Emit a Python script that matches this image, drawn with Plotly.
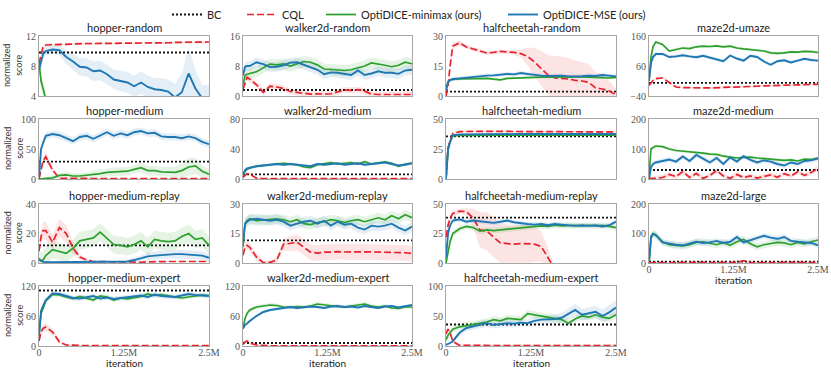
import plotly.graph_objects as go

W, H = 831, 369

# iteration (millions)
X = [0, 0.03, 0.06, 0.1,
     0.2, 0.3, 0.4, 0.5, 0.6, 0.7, 0.8, 0.9, 1.0, 1.1, 1.2, 1.3,
     1.4, 1.5, 1.6, 1.7, 1.8, 1.9, 2.0, 2.1, 2.2, 2.3, 2.4, 2.5]
X_TICKS = [0, 1.25, 2.5]
X_TICK_TEXT = ["0", "1.25M", "2.5M"]

# ---- hopper-random
hr_bc = 9.8
hr_cql = [8.3, 9.5, 10.6, 10.8,
          10.85, 10.9, 10.9, 10.95, 10.95, 11.0, 11.0, 11.0, 11.0, 11.05, 11.05, 11.05,
          11.1, 11.1, 11.1, 11.1, 11.1, 11.1, 11.15, 11.15, 11.15, 11.15, 11.15, 11.2]
hr_min = [8.5, 6.0, 5.0, 3.5,
          2.0, 1.8, 1.6, 1.5, 1.5, 1.4, 1.4, 1.3, 1.3, 1.3, 1.2, 1.2,
          1.2, 1.2, 1.1, 1.1, 1.1, 1.1, 1.0, 1.0, 1.0, 1.0, 1.0, 1.0]
hr_mse = [7.5, 8.5, 9.6, 10.0,
          10.2, 10.1, 9.2, 8.6, 7.9, 7.8, 7.3, 7.4, 6.9, 6.2, 6.0, 5.8,
          5.3, 5.8, 5.2, 4.9, 4.8, 4.6, 3.8, 4.5, 7.0, 5.0, 3.7, 3.6]
hr_mse_sd = [0.5, 0.8, 0.8, 0.6,
             0.5, 0.7, 0.9, 1.1, 1.2, 1.2, 1.3, 1.3, 1.3, 1.3, 1.4, 1.4,
             1.4, 1.5, 1.5, 1.5, 1.6, 1.6, 1.8, 2.5, 3.5, 2.5, 1.8, 1.8]

# ---- walker2d-random
wr_bc = 1.6
wr_cql = [1.8, 3.5, 5.0, 4.5,
          3.0, 1.0, 2.6, 2.4, 2.0, 1.2, 1.0, 0.6, 0.5, 0.6, 0.5, 0.6,
          1.0, 1.6, 1.5, 1.7, 1.3, 0.5, 0.4, 0.4, 0.4, 0.4, 0.4, 0.4]
wr_min = [3.0, 5.5, 5.8, 6.0,
          6.5, 7.5, 8.5, 8.3, 8.6, 8.0, 8.5, 9.2, 9.0, 8.3, 7.2, 7.0,
          6.8, 6.8, 7.0, 7.4, 8.0, 8.8, 8.6, 8.2, 7.8, 8.2, 9.0, 8.6]
wr_mse = [5.5, 7.8, 8.0, 8.0,
          9.0, 8.5, 7.7, 7.8, 8.2, 8.9, 9.0, 8.4, 7.8, 7.0, 5.8, 6.3,
          6.2, 6.0, 5.6, 6.8, 5.6, 6.0, 6.6, 6.2, 6.2, 5.9, 6.8, 7.0]

# ---- halfcheetah-random
cr_bc = 2.2
cr_cql = [0.0, 5.0, 15.0, 25.0,
          26.5, 24.5, 23.5, 22.5, 21.5, 21.8, 22.3, 22.0, 21.8, 21.2, 19.8, 17.0,
          14.0, 10.5, 9.0, 8.8, 8.5, 7.8, 7.5, 6.8, 4.0, 3.5, 2.5, 0.5]
cr_cql_sd = [0.3, 1.0, 1.5, 1.5,
             1.2, 1.0, 1.0, 1.0, 1.0, 1.0, 1.0, 1.0, 1.2, 2.0, 4.5, 7.0,
             8.5, 10.0, 11.0, 11.0, 10.5, 10.0, 9.5, 9.0, 8.0, 7.0, 5.0, 3.0]
cr_min = [3.0, 7.0, 8.0, 8.3,
          8.5, 8.6, 8.5, 8.6, 8.8, 8.4, 8.1, 8.8, 9.0, 9.2, 9.3, 9.3,
          9.4, 9.5, 9.6, 9.4, 9.5, 9.6, 9.6, 9.5, 9.4, 9.3, 9.0, 9.3]
cr_mse = [3.0, 7.0, 8.0, 8.5,
          8.8, 9.2, 9.7, 10.0, 10.2, 10.3, 10.6, 11.0, 10.8, 11.5, 11.0, 10.5,
          10.2, 10.0, 10.0, 10.2, 9.8, 9.7, 9.9, 10.1, 10.0, 10.5, 10.0, 9.8]

# ---- maze2d-umaze
mu_bc = 4.0
mu_cql = [-5, 5, 12, 18,
          20, 5, -10, -12, -13, -13, -13, -13, -12.5, -12, -11, -10,
          -9, -8, -7.5, -6, -5.5, -5, -6, -4, -5, -3, -2, -1]
mu_min = [10, 90, 125, 140,
          132, 110, 115, 120, 118, 124, 126, 125, 127, 124, 126, 120,
          117, 114, 112, 110, 104, 102, 104, 107, 106, 109, 108, 105]
mu_mse = [10, 70, 90, 100,
          100, 90, 92, 96, 92, 89, 94, 88, 80, 76, 95, 85,
          78, 94, 90, 75, 64, 76, 79, 72, 78, 84, 80, 78]

# ---- hopper-medium
hm_bc = 29
hm_cql = [0, 15, 30, 37,
          15, 1, 0.8, 0.8, 0.8, 0.8, 0.8, 0.8, 0.8, 0.8, 0.8, 0.8,
          0.8, 0.8, 0.8, 0.8, 0.8, 0.8, 0.8, 0.8, 0.8, 0.8, 0.8, 0.8]
hm_cql_sd = [0, 4, 7, 8,
             5, 1, 0.3, 0.3, 0.3, 0.3, 0.3, 0.3, 0.3, 0.3, 0.3, 0.3,
             0.3, 0.3, 0.3, 0.3, 0.3, 0.3, 0.3, 0.3, 0.3, 0.3, 0.3, 0.3]
hm_min = [0, 0, 0.5, 1,
          2, 6, 7, 5, 5, 6, 8, 9, 11, 12, 12, 13,
          16, 19, 14, 14, 12, 12, 11, 14, 20, 22, 13, 8]
hm_min_sd = [0, 0.5, 1, 2,
             3, 4, 5, 5, 5, 5, 6, 6, 6, 7, 7, 7,
             7, 8, 8, 8, 8, 8, 9, 12, 15, 14, 10, 8]
hm_mse = [0, 50, 60, 72,
          75, 73, 68, 63, 70, 72, 67, 72, 78, 72, 76, 73,
          78, 80, 76, 77, 71, 70, 70, 68, 71, 68, 62, 58]

# ---- walker2d-medium
wm_bc = 6.2
wm_cql = [2, 5, 7, 6.5,
          1, 0.5, 0.5, 0.5, 0.5, 0.5, 0.5, 0.5, 0.5, 0.5, 0.5, 0.5,
          0.5, 0.5, 0.5, 0.5, 0.5, 0.5, 0.5, 0.5, 0.5, 0.5, 0.5, 0.5]
wm_min = [4, 10, 13, 15,
          17, 18, 19, 20, 21, 20, 19, 16, 15, 19, 21, 22,
          20, 21, 22, 20, 23, 20, 21, 23, 21, 17, 20, 21]
wm_mse = [5, 12, 14, 15,
          17, 18, 19, 20, 19, 20, 19, 18, 17, 20, 19, 20,
          21, 19, 20, 21, 19, 20, 21, 22, 20, 18, 19, 21]

# ---- halfcheetah-medium
cm_bc = 35.5
cm_cql = [0, 26, 32, 38,
          39.5, 39.8, 39.8, 39.8, 39.7, 39.7, 39.7, 39.6, 39.6, 39.6, 39.5, 39.5,
          39.5, 39.5, 39.4, 39.4, 39.4, 39.3, 39.3, 39.3, 39.2, 39.2, 39.2, 39.2]
cm_min = [0, 24, 31, 36,
          36.3, 36.4, 36.5, 36.5, 36.5, 36.5, 36.5, 36.6, 36.6, 36.6, 36.6, 36.6,
          36.6, 36.6, 36.6, 36.6, 36.6, 36.6, 36.6, 36.6, 36.6, 36.6, 36.6, 36.6]
cm_mse = [0, 25, 31, 36.5,
          37.2, 37.3, 37.3, 37.4, 37.4, 37.4, 37.4, 37.4, 37.5, 37.5, 37.5, 37.5,
          37.5, 37.5, 37.5, 37.5, 37.5, 37.5, 37.5, 37.5, 37.5, 37.5, 37.5, 37.5]

# ---- maze2d-medium
mm_bc = 30
mm_cql = [0, 2, 1, 3,
          5, 15, 8, 25, 5, 18, 2, 12, 28, 10, 2, 15,
          5, 10, 3, 8, 14, 6, 18, 10, 24, 12, 22, 35]
mm_min = [10, 100, 105, 110,
          108, 100, 95, 93, 92, 88, 86, 83, 82, 76, 72, 70,
          72, 73, 70, 68, 66, 66, 62, 64, 60, 66, 65, 70]
mm_mse = [0, 40, 50, 55,
          60, 65, 58, 75, 60, 80, 68, 55, 70, 50, 72, 58,
          76, 64, 55, 62, 58, 50, 45, 55, 50, 60, 62, 68]

# ---- hopper-medium-replay
hmr_bc = 12
hmr_cql = [8, 18, 22, 22,
           14, 24, 20, 10, 4, 2, 1, 0.8, 0.8, 0.8, 0.8, 0.6,
           0.5, 0.5, 0.8, 1.0, 1.0, 1.0, 1.0, 1.0, 1.0, 1.0, 1.0, 1.0]
hmr_cql_sd = [2, 4, 6, 6,
              5, 6, 6, 4, 2, 1, 0.5, 0.3, 0.3, 0.3, 0.3, 0.3,
              0.3, 0.3, 0.3, 0.3, 0.3, 0.3, 0.3, 0.3, 0.3, 0.3, 0.3, 0.3]
hmr_min = [2, 1.5, 2, 5,
           9, 8, 6.5, 10, 15, 16, 17, 21, 17, 12.5, 12, 11,
           12.5, 15, 11, 16, 15, 14.5, 15, 18, 20, 16, 17, 12]
hmr_mse = [3, 1.5, 0.8, 0.5,
           0.5, 0.5, 0.5, 0.5, 0.5, 0.5, 0.5, 0.5, 0.5, 0.6, 0.8, 1.0,
           2.0, 3.5, 4.5, 5.0, 5.5, 6.0, 6.0, 6.0, 5.8, 5.5, 5.0, 3.5]
hmr_mse_sd = [1, 1, 0.5, 0.5,
              0.5, 0.5, 0.5, 0.5, 0.5, 0.5, 0.5, 0.5, 0.5, 0.6, 0.8, 1.0,
              1.5, 2.0, 2.5, 3.0, 3.0, 3.0, 3.0, 3.0, 3.0, 3.0, 3.0, 2.5]

# ---- walker2d-medium-replay
wmr_bc = 11.5
wmr_cql = [4, 8, 9, 8,
           3, 0.2, 0.3, 1.5, 9.5, 10, 10.5, 8, 5.5, 5, 5.5, 5.5,
           5.8, 5.6, 5.8, 5.7, 5.7, 5.6, 5.8, 5.6, 5.5, 5.4, 5.2, 4.8]
wmr_cql_sd = [2, 2, 2, 2,
              2, 1, 1, 1.5, 3, 4, 4, 4, 4, 4, 4, 4,
              4, 4, 4, 4, 4, 4, 4, 4, 4, 4, 4, 4]
wmr_min = [8, 20, 21.5, 22.5,
           21.5, 21.8, 22, 22.5, 22, 21, 22, 20, 19.5, 20.5, 21, 22,
           21.5, 20.5, 21.5, 22, 21, 22, 23, 22, 24, 22.5, 24.5, 23]
wmr_mse = [10, 20, 21, 22,
           22.5, 22, 21.5, 22, 21, 19, 20, 21, 21.5, 20, 21.5, 19,
           21, 19.5, 20, 18, 17, 19, 18.5, 19, 20, 18, 16.5, 18.5]

# ---- halfcheetah-medium-replay
cmr_bc = 38.5
cmr_cql = [22, 32, 38, 42,
           44, 43.5, 38, 28, 27, 22, 17, 16.5, 16, 16.5, 16, 16,
           14, 5, -5, -8, -8, -8, -8, -8, -8, -8, -8, -8]
cmr_cql_sd = [2, 3, 3, 3,
              2, 3, 8, 15, 16, 17, 17, 16, 16, 16, 16, 15,
              13, 8, 1, 1, 1, 1, 1, 1, 1, 1, 1, 1]
cmr_min = [0, 10, 18, 25,
           29, 31, 30, 27, 28, 27.5, 28, 28.5, 29, 30, 30.5, 31,
           31.5, 31, 32, 31.5, 32, 32, 31.5, 32, 31.5, 32, 31, 30]
cmr_mse = [5, 25, 32, 36,
           37, 35, 36, 35.5, 35, 34, 35, 36, 34.5, 33.5, 33, 32.5,
           33, 32, 33, 32.5, 32, 31.5, 32, 31.5, 32, 31, 32, 35]

# ---- maze2d-large
ml_bc = 5
ml_cql = [0, 1, 1.5, 2,
          1.5, 2, 1.5, 2, 1.5, 2, 2, 1.5, 2, 1.5, 2, 2,
          8, 2, 1.5, 2, 2, 1.5, 2, 1.5, 2, 1.5, 2, 2]
ml_min = [0, 85, 100, 95,
          72, 62, 60, 58, 62, 70, 72, 68, 62, 70, 60, 72,
          80, 65, 55, 62, 66, 70, 68, 62, 70, 65, 72, 78]
ml_mse = [0, 90, 98, 95,
          70, 65, 62, 60, 65, 72, 68, 70, 75, 68, 72, 88,
          70, 78, 85, 92, 86, 82, 88, 75, 72, 70, 68, 60]

# ---- hopper-medium-expert
hme_bc = 111
hme_cql = [10, 28, 35, 38,
           28, 8, 2, 1, 1, 1, 1, 1, 1, 1, 1, 1,
           1, 1, 1, 1, 1, 1, 1, 1, 1, 1, 1, 1]
hme_cql_sd = [2, 5, 8, 8,
              6, 4, 1, 0.5, 0.5, 0.5, 0.5, 0.5, 0.5, 0.5, 0.5, 0.5,
              0.5, 0.5, 0.5, 0.5, 0.5, 0.5, 0.5, 0.5, 0.5, 0.5, 0.5, 0.5]
hme_min = [20, 65, 75, 90,
           103, 102, 98, 95, 99, 96, 92, 100, 98, 92, 96, 94,
           97, 99, 104, 101, 103, 100, 98, 96, 98, 100, 102, 101]
hme_mse = [20, 70, 80, 92,
           105, 104, 100, 96, 95, 98, 100, 95, 97, 94, 96, 98,
           100, 101, 98, 103, 100, 99, 98, 101, 104, 102, 101, 100]

# ---- walker2d-medium-expert
wme_bc = 6
wme_cql = [3, 8, 10, 6,
           2, 0.5, 0.3, 0.3, 0.3, 0.3, 0.3, 0.3, 0.3, 0.3, 0.3, 0.3,
           0.3, 0.3, 0.3, 0.3, 0.3, 0.3, 0.3, 0.3, 0.3, 0.3, 0.3, 0.3]
wme_min = [35, 55, 65, 72,
           78, 80, 82, 81, 78, 77, 79, 78, 80, 84, 82, 80,
           79, 78, 80, 82, 84, 80, 78, 80, 76, 75, 78, 78]
wme_mse = [35, 42, 45, 50,
           60, 68, 72, 74, 76, 78, 76, 77, 79, 78, 76, 79,
           80, 78, 79, 77, 80, 78, 76, 79, 80, 77, 79, 82]

# ---- halfcheetah-medium-expert
cme_bc = 35.8
cme_cql = [20, 28, 22, 8,
           1, 0.8, 0.8, 0.8, 0.8, 0.8, 0.8, 0.8, 0.8, 0.8, 0.8, 0.8,
           0.8, 0.8, 0.8, 0.8, 0.8, 1.5, 0.8, 0.8, 0.8, 0.8, 0.8, 0.8]
cme_min = [10, 18, 22, 28,
           32, 34, 36, 37, 40, 44, 42, 46, 45, 44, 54, 52,
           50, 48, 46, 44, 38, 45, 50, 48, 52, 48, 46, 52]
cme_mse = [2, 3, 5, 8,
           22, 30, 33, 36, 38, 35, 36, 38, 37, 39, 38, 42,
           44, 44, 45, 47, 54, 60, 52, 54, 57, 50, 56, 64]
cme_mse_sd = [1, 1, 1, 2,
              4, 5, 6, 6, 6, 6, 6, 6, 6, 6, 6, 7,
              7, 7, 8, 8, 9, 10, 10, 10, 10, 11, 12, 12]

# title, bc, cql, cql_sd, minimax, minimax_sd, mse, mse_sd, y range, y ticks
PANELS = [
    ("hopper-random", hr_bc, hr_cql, 0.15, hr_min, 1.0, hr_mse, hr_mse_sd, [4, 12], [4, 8, 12]),
    ("walker2d-random", wr_bc, wr_cql, 0.8, wr_min, 1.5, wr_mse, 1.3, [0, 16], [0, 8, 16]),
    ("halfcheetah-random", cr_bc, cr_cql, cr_cql_sd, cr_min, 0.6, cr_mse, 1.0, [0, 30], [0, 15, 30]),
    ("maze2d-umaze", mu_bc, mu_cql, 3, mu_min, 5, mu_mse, 6, [-40, 160], [-40, 60, 160]),
    ("hopper-medium", hm_bc, hm_cql, hm_cql_sd, hm_min, hm_min_sd, hm_mse, 6, [0, 100], [0, 50, 100]),
    ("walker2d-medium", wm_bc, wm_cql, 1, wm_min, 2, wm_mse, 2, [0, 80], [0, 40, 80]),
    ("halfcheetah-medium", cm_bc, cm_cql, 0.5, cm_min, 0.5, cm_mse, 0.5, [0, 50], [0, 25, 50]),
    ("maze2d-medium", mm_bc, mm_cql, 8, mm_min, 5, mm_mse, 8, [0, 200], [0, 100, 200]),
    ("hopper-medium-replay", hmr_bc, hmr_cql, hmr_cql_sd, hmr_min, 6, hmr_mse, hmr_mse_sd, [0, 40], [0, 20, 40]),
    ("walker2d-medium-replay", wmr_bc, wmr_cql, wmr_cql_sd, wmr_min, 2.5, wmr_mse, 2.5, [0, 30], [0, 15, 30]),
    ("halfcheetah-medium-replay", cmr_bc, cmr_cql, cmr_cql_sd, cmr_min, 2.5, cmr_mse, 2, [0, 50], [0, 25, 50]),
    ("maze2d-large", ml_bc, ml_cql, 2, ml_min, 12, ml_mse, 10, [0, 200], [0, 100, 200]),
    ("hopper-medium-expert", hme_bc, hme_cql, hme_cql_sd, hme_min, 4, hme_mse, 5, [0, 120], [0, 60, 120]),
    ("walker2d-medium-expert", wme_bc, wme_cql, 1.5, wme_min, 4, wme_mse, 3, [0, 120], [0, 60, 120]),
    ("halfcheetah-medium-expert", cme_bc, cme_cql, 2, cme_min, 6, cme_mse, cme_mse_sd, [0, 100], [0, 50, 100]),
]

NAMES = ["BC", "CQL", "OptiDICE-minimax (ours)", "OptiDICE-MSE (ours)"]

# plot boxes in pixels
COL_PX = [(39, 209), (243, 412), (446, 616), (649, 818)]
ROW_PX = [(36, 96), (119, 179), (204, 263), (286, 346)]
LEGEND_X_PX = [167, 242, 321, 503]

BC_COLOR = "#111111"
CQL_COLOR = "#e8222b"
MIN_COLOR = "#2ca02c"
MSE_COLOR = "#1f77b4"
CQL_FILL = "rgba(232,34,43,0.12)"
MIN_FILL = "rgba(44,160,44,0.12)"
MSE_FILL = "rgba(31,119,180,0.12)"

SANS = "Lato, sans-serif"
SERIF = "Liberation Serif, serif"
FRAME = "#a6a6a6"


def _spread(values, sd):
    if isinstance(sd, (int, float)):
        return [sd] * len(values)
    return sd


fig = go.Figure()
layout_axes = {}
annotations = []

for i, (title, bc, cql, cql_sd, mini, mini_sd, mse, mse_sd, yr, yt) in enumerate(PANELS):
    r, c = divmod(i, 4)
    n = "" if i == 0 else str(i + 1)
    xa, ya = "x" + n, "y" + n
    first = i == 0

    # shaded std bands
    for vals, sd, fill in [(cql, cql_sd, CQL_FILL), (mini, mini_sd, MIN_FILL), (mse, mse_sd, MSE_FILL)]:
        s = _spread(vals, sd)
        upper = [v + d for v, d in zip(vals, s)]
        lower = [v - d for v, d in zip(vals, s)]
        fig.add_trace(go.Scatter(x=X, y=upper, xaxis=xa, yaxis=ya, mode="lines",
                                 line=dict(width=0), hoverinfo="skip", showlegend=False))
        fig.add_trace(go.Scatter(x=X, y=lower, xaxis=xa, yaxis=ya, mode="lines",
                                 line=dict(width=0), fill="tonexty", fillcolor=fill,
                                 hoverinfo="skip", showlegend=False))

    fig.add_trace(go.Scatter(
        x=[X[0], X[-1]], y=[bc, bc], xaxis=xa, yaxis=ya, mode="lines",
        line=dict(color=BC_COLOR, width=1.8, dash="2px,2px"),
        name=NAMES[0], showlegend=first, legend="legend",
    ))
    fig.add_trace(go.Scatter(
        x=X, y=cql, xaxis=xa, yaxis=ya, mode="lines",
        line=dict(color=CQL_COLOR, width=1.7, dash="7px,3px"),
        name=NAMES[1], showlegend=first, legend="legend2",
    ))
    fig.add_trace(go.Scatter(
        x=X, y=mini, xaxis=xa, yaxis=ya, mode="lines",
        line=dict(color=MIN_COLOR, width=1.7),
        name=NAMES[2], showlegend=first, legend="legend3",
    ))
    fig.add_trace(go.Scatter(
        x=X, y=mse, xaxis=xa, yaxis=ya, mode="lines",
        line=dict(color=MSE_COLOR, width=1.9),
        name=NAMES[3], showlegend=first, legend="legend4",
    ))

    x0, x1 = COL_PX[c]
    y0, y1 = ROW_PX[r]
    show_x = r == 3 or (r == 2 and c == 3)
    layout_axes["xaxis" + n] = dict(
        domain=[x0 / W, x1 / W], anchor=ya, range=[X[0], X[-1]],
        tickvals=X_TICKS, ticktext=X_TICK_TEXT, showticklabels=show_x,
        ticklabelstandoff=-3,
        showline=True, mirror=True, linecolor=FRAME, linewidth=1,
        showgrid=False, zeroline=False, ticks="",
        tickfont=dict(family=SERIF, size=10, color="#555555"),
    )
    layout_axes["yaxis" + n] = dict(
        domain=[1 - y1 / H, 1 - y0 / H], anchor=xa, range=yr, tickvals=yt,
        showline=True, mirror=True, linecolor=FRAME, linewidth=1,
        showgrid=False, zeroline=False, ticks="",
        tickfont=dict(family=SERIF, size=10, color="#555555"),
    )
    annotations.append(dict(
        text=title, xref="paper", yref="paper", x=(x0 + x1) / 2 / W, y=1 - y0 / H,
        xanchor="center", yanchor="bottom", showarrow=False,
        font=dict(family=SANS, size=11, color="#222222"),
    ))
    if show_x:
        annotations.append(dict(
            text="iteration", xref="paper", yref="paper", x=(x0 + x1) / 2 / W,
            y=1 - (y1 + 17) / H, xanchor="center", yanchor="middle", showarrow=False,
            font=dict(family=SANS, size=10, color="#222222"),
        ))
    if c == 0:
        annotations.append(dict(
            text="normalized<br>score", xref="paper", yref="paper", x=13 / W,
            y=1 - (y0 + y1) / 2 / H, xanchor="center", yanchor="middle",
            textangle=-90, showarrow=False,
            font=dict(family=SANS, size=9, color="#333333"),
        ))

legends = {}
for k, lx in enumerate(LEGEND_X_PX):
    key = "legend" if k == 0 else "legend" + str(k + 1)
    legends[key] = dict(
        x=lx / W, y=1, xanchor="left", yanchor="top", orientation="h",
        bgcolor="rgba(0,0,0,0)", font=dict(family=SANS, size=11, color="#222222"),
    )

fig.update_layout(
    width=W, height=H,
    margin=dict(l=0, r=0, t=0, b=0, autoexpand=False),
    paper_bgcolor="#ffffff",
    plot_bgcolor="#ffffff",
    annotations=annotations,
    **layout_axes,
    **legends,
)

# drop the page's default 8px body margin so the figure sits at the window origin
fig.write_html(
    "out.html",
    config={"displayModeBar": False},
    post_script="document.body.style.margin = '0px';",
)
